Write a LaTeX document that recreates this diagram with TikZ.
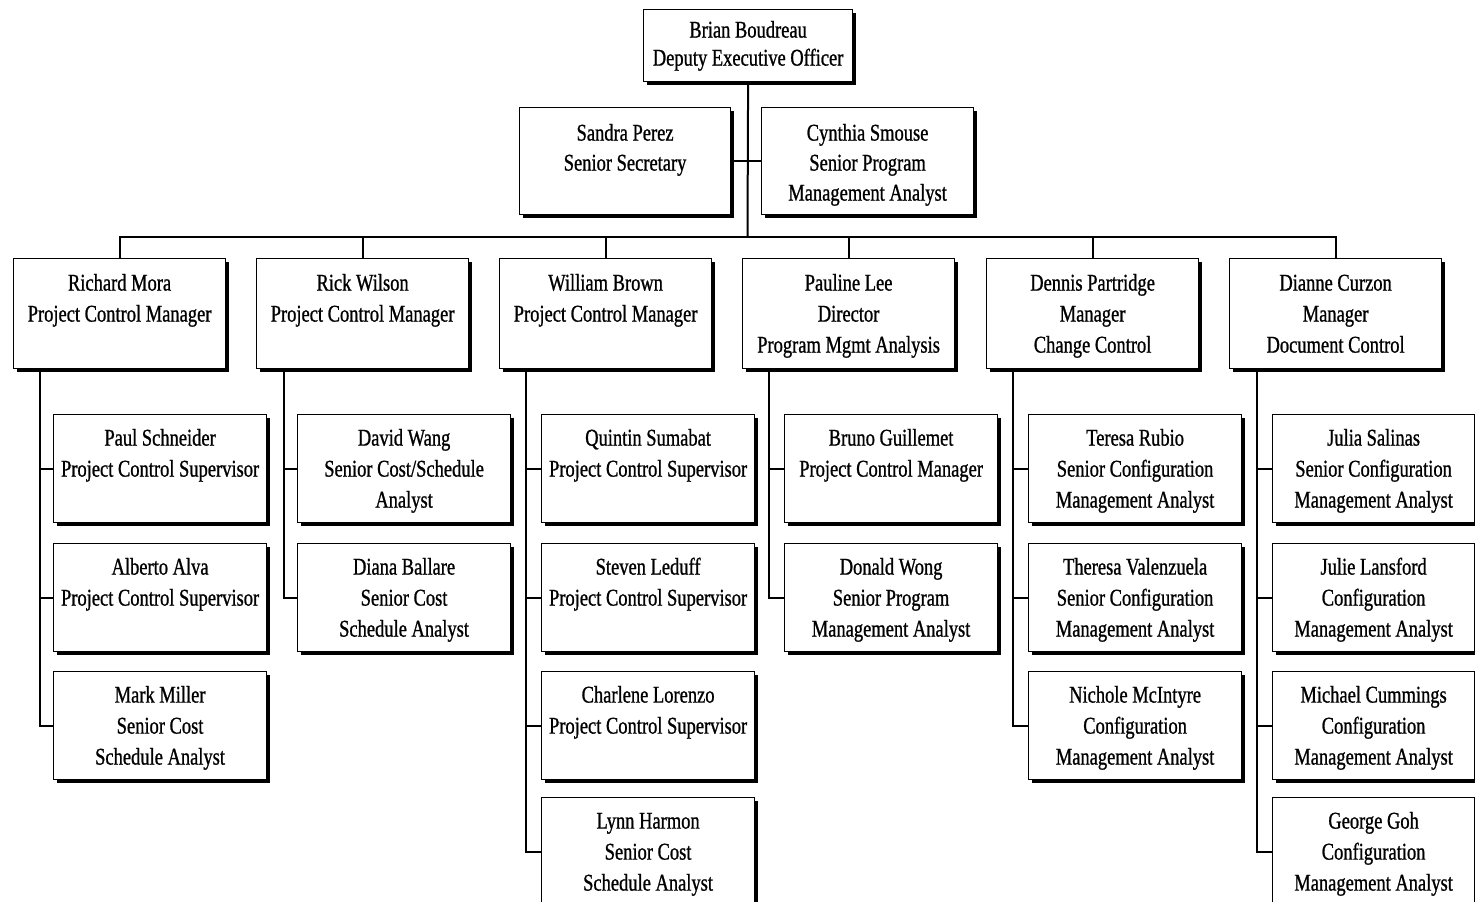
\documentclass[tikz,border=0pt]{standalone}
\usepackage{fontspec}
\setmainfont{Liberation Serif}[FakeStretch=0.77,FakeBold=0.9]
\usetikzlibrary{shadows}
\newcommand{\cardtext}[4][31pt]{\parbox[c][#3][t]{#2}{\centering\rule{0pt}{#1}#4}}
\tikzset{
  card/.style={draw=black, line width=1.2pt, fill=white, inner sep=0pt, anchor=north west,
    font=\fontsize{24}{31}\selectfont,
    general shadow={fill=black, shadow xshift=3.5pt, shadow yshift=-3.5pt}},
  link/.style={line width=2pt},
}
\begin{document}
\begin{tikzpicture}[x=1pt,y=-1pt]
\useasboundingbox (0,0) rectangle (1475,902);
\fill[white] (0,0) rectangle (1475,902);
% top
\node[card, font=\fontsize{24}{28}\selectfont] (bb) at (643,9) {\cardtext[28pt]{209pt}{72pt}{Brian Boudreau\\Deputy Executive Officer}};
\node[card, font=\fontsize{24}{30}\selectfont] (sp) at (519,107) {\cardtext[33pt]{211pt}{107pt}{Sandra Perez\\Senior Secretary}};
\node[card, font=\fontsize{24}{30}\selectfont] (cs) at (761,107) {\cardtext[33pt]{212pt}{107pt}{Cynthia Smouse\\Senior Program\\Management Analyst}};
% managers
\node[card] (rm) at (13,258) {\cardtext[32pt]{212pt}{110pt}{Richard Mora\\Project Control Manager}};
\node[card] (rw) at (256,258) {\cardtext[32pt]{212pt}{110pt}{Rick Wilson\\Project Control Manager}};
\node[card] (wb) at (499,258) {\cardtext[32pt]{212pt}{110pt}{William Brown\\Project Control Manager}};
\node[card] (pl) at (742,258) {\cardtext[32pt]{212pt}{110pt}{Pauline Lee\\Director\\Program Mgmt Analysis}};
\node[card] (dp) at (986,258) {\cardtext[32pt]{212pt}{110pt}{Dennis Partridge\\Manager\\Change Control}};
\node[card] (dc) at (1229,258) {\cardtext[32pt]{212pt}{110pt}{Dianne Curzon\\Manager\\Document Control}};
% Richard Mora team
\node[card] (ps) at (53,414) {\cardtext{213pt}{108pt}{Paul Schneider\\Project Control Supervisor}};
\node[card] (aa) at (53,543) {\cardtext{213pt}{108pt}{Alberto Alva\\Project Control Supervisor}};
\node[card] (mm) at (53,671) {\cardtext{213pt}{108pt}{Mark Miller\\Senior Cost\\Schedule Analyst}};
% Rick Wilson team
\node[card] (dw) at (297,414) {\cardtext{213pt}{108pt}{David Wang\\Senior Cost/Schedule\\Analyst}};
\node[card] (db) at (297,543) {\cardtext{213pt}{108pt}{Diana Ballare\\Senior Cost\\Schedule Analyst}};
% William Brown team
\node[card] (qs) at (541,414) {\cardtext{213pt}{108pt}{Quintin Sumabat\\Project Control Supervisor}};
\node[card] (sl) at (541,543) {\cardtext{213pt}{108pt}{Steven Leduff\\Project Control Supervisor}};
\node[card] (cl) at (541,671) {\cardtext{213pt}{108pt}{Charlene Lorenzo\\Project Control Supervisor}};
\node[card] (lh) at (541,797) {\cardtext{213pt}{108pt}{Lynn Harmon\\Senior Cost\\Schedule Analyst}};
% Pauline Lee team
\node[card] (bg) at (784,414) {\cardtext{213pt}{108pt}{Bruno Guillemet\\Project Control Manager}};
\node[card] (dwo) at (784,543) {\cardtext{213pt}{108pt}{Donald Wong\\Senior Program\\Management Analyst}};
% Dennis Partridge team
\node[card] (tr) at (1028,414) {\cardtext{213pt}{108pt}{Teresa Rubio\\Senior Configuration\\Management Analyst}};
\node[card] (tv) at (1028,543) {\cardtext{213pt}{108pt}{Theresa Valenzuela\\Senior Configuration\\Management Analyst}};
\node[card] (nm) at (1028,671) {\cardtext{213pt}{108pt}{Nichole McIntyre\\Configuration\\Management Analyst}};
% Dianne Curzon team
\node[card] (js) at (1272,414) {\cardtext{202pt}{108pt}{Julia Salinas\\Senior Configuration\\Management Analyst}};
\node[card] (jl) at (1272,543) {\cardtext{202pt}{108pt}{Julie Lansford\\Configuration\\Management Analyst}};
\node[card] (mc) at (1272,671) {\cardtext{202pt}{108pt}{Michael Cummings\\Configuration\\Management Analyst}};
\node[card] (gg) at (1272,797) {\cardtext{202pt}{108pt}{George Goh\\Configuration\\Management Analyst}};
% connectors top
\coordinate (bus) at (747.5,237);
\draw[link] (bb.south) -- (bus);
\draw[link] (sp.east) -- (cs.west);
\draw[link] (rm.north) -- (rm.north |- bus) -- (dc.north |- bus) -- (dc.north);
\draw[link] (rw.north) -- (rw.north |- bus);
\draw[link] (wb.north) -- (wb.north |- bus);
\draw[link] (pl.north) -- (pl.north |- bus);
\draw[link] (dp.north) -- (dp.north |- bus);
% team connectors
\coordinate (rmv) at ([xshift=27pt]rm.south west);
\coordinate (rwv) at ([xshift=28pt]rw.south west);
\coordinate (wbv) at ([xshift=27pt]wb.south west);
\coordinate (plv) at ([xshift=27pt]pl.south west);
\coordinate (dpv) at ([xshift=27pt]dp.south west);
\coordinate (dcv) at ([xshift=28pt]dc.south west);
\draw[link] (rmv) |- (ps.west); \draw[link] (rmv) |- (aa.west); \draw[link] (rmv) |- (mm.west);
\draw[link] (rwv) |- (dw.west); \draw[link] (rwv) |- (db.west);
\draw[link] (wbv) |- (qs.west); \draw[link] (wbv) |- (sl.west); \draw[link] (wbv) |- (cl.west); \draw[link] (wbv) |- (lh.west);
\draw[link] (plv) |- (bg.west); \draw[link] (plv) |- (dwo.west);
\draw[link] (dpv) |- (tr.west); \draw[link] (dpv) |- (tv.west); \draw[link] (dpv) |- (nm.west);
\draw[link] (dcv) |- (js.west); \draw[link] (dcv) |- (jl.west); \draw[link] (dcv) |- (mc.west); \draw[link] (dcv) |- (gg.west);
\end{tikzpicture}
\end{document}
